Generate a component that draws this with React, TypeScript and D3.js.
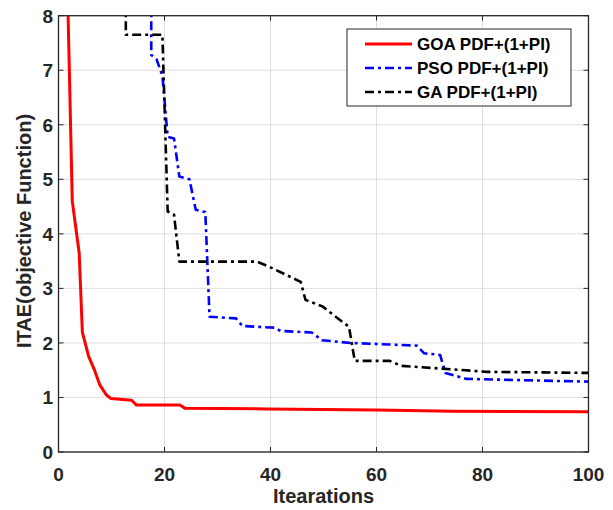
import React from 'react';
import * as d3 from 'd3';

// X ticks / Y ticks
const xTicks = [0, 20, 40, 60, 80, 100];
const yTicks = [0, 1, 2, 3, 4, 5, 6, 7, 8];

// GOA PDF+(1+PI)
const goaIter = [1.0, 2.6, 3.9, 4.5, 5.7, 6.8, 7.8, 9.0, 9.9, 13.8, 14.7, 22.9, 23.9, 39.3, 60, 74.4, 100];
const goaVal = [11.5, 4.6, 3.65, 2.2, 1.75, 1.5, 1.23, 1.05, 0.98, 0.95, 0.86, 0.86, 0.8, 0.79, 0.77, 0.745, 0.74];

// PSO PDF+(1+PI)
const psoIter = [17.5, 17.5, 18.5, 19.6, 20.6, 21.8, 22.8, 24.7, 25.9, 27.7, 28.5, 33.5, 34.7, 40.7, 41.9, 47.8, 49.7, 55.1, 67.6, 69, 72, 73, 77, 100];
const psoVal = [9, 7.28, 7.2, 6.9, 5.78, 5.75, 5.05, 5.0, 4.44, 4.4, 2.48, 2.45, 2.31, 2.28, 2.22, 2.19, 2.05, 2.0, 1.95, 1.81, 1.78, 1.45, 1.34, 1.29];

// GA PDF+(1+PI)
const gaIter = [12.7, 12.7, 19.6, 20.6, 21.8, 22.8, 37.5, 39.7, 45.7, 46.6, 49.8, 53.9, 54.8, 55.9, 62.5, 64.7, 80.9, 100];
const gaVal = [9, 7.65, 7.65, 4.41, 4.35, 3.49, 3.49, 3.4, 3.12, 2.79, 2.67, 2.36, 2.3, 1.67, 1.67, 1.58, 1.47, 1.45];

const seriesNames = ['GOA PDF+(1+PI)', 'PSO PDF+(1+PI)', 'GA PDF+(1+PI)'];
const seriesColors = ['#ff0000', '#0000ff', '#000000'];

export default function App() {
  const W = 613, H = 510;
  const x0 = 58.5, x1 = 588.5, yTop = 15.7, yBot = 452;
  const x = d3.scaleLinear().domain([0, 100]).range([x0, x1]);
  const y = d3.scaleLinear().domain([0, 8]).range([yBot, yTop]);
  const line = d3.line<[number, number]>().x(d => x(d[0])).y(d => y(d[1]));
  const zip = (a: number[], b: number[]) => a.map((v, i) => [v, b[i]] as [number, number]);
  const series = [zip(goaIter, goaVal), zip(psoIter, psoVal), zip(gaIter, gaVal)];
  const dashes = ['none', '9,4,3,4', '9,4,3,4'];
  const widths = [3, 2.6, 2.6];
  const axisColor = '#262626';
  const font = '"Liberation Sans", Arial, sans-serif';

  const legX = 347, legY = 29, legW = 224, legH = 77;
  const legRows = [44, 68, 92];

  return (
    <svg width={W} height={H} style={{ position: 'absolute', left: 0, top: 0, background: '#fff' }}>
      <defs>
        <clipPath id="plotclip">
          <rect x={x0} y={yTop} width={x1 - x0} height={yBot - yTop} />
        </clipPath>
      </defs>
      <rect x={0} y={0} width={W} height={H} fill="#fff" />
      {/* grid */}
      {xTicks.map(t => (
        <line key={'gx' + t} x1={x(t)} x2={x(t)} y1={yTop} y2={yBot} stroke="#dedede" strokeWidth={1} />
      ))}
      {yTicks.map(t => (
        <line key={'gy' + t} x1={x0} x2={x1} y1={y(t)} y2={y(t)} stroke="#dedede" strokeWidth={1} />
      ))}
      {/* series */}
      <g clipPath="url(#plotclip)">
        {series.map((s, i) => (
          <path key={i} d={line(s) || ''} fill="none" stroke={seriesColors[i]} strokeWidth={widths[i]}
            strokeDasharray={dashes[i]} strokeLinejoin="round" />
        ))}
      </g>
      {/* ticks */}
      {xTicks.map(t => (
        <g key={'tx' + t}>
          <line x1={x(t)} x2={x(t)} y1={yBot} y2={yBot - 5} stroke={axisColor} strokeWidth={1} />
          <line x1={x(t)} x2={x(t)} y1={yTop} y2={yTop + 5} stroke={axisColor} strokeWidth={1} />
          <text x={x(t)} y={481} textAnchor="middle" fontFamily={font} fontWeight="bold" fontSize={19} fill={axisColor}>{t}</text>
        </g>
      ))}
      {yTicks.map(t => (
        <g key={'ty' + t}>
          <line x1={x0} x2={x0 + 5} y1={y(t)} y2={y(t)} stroke={axisColor} strokeWidth={1} />
          <line x1={x1} x2={x1 - 5} y1={y(t)} y2={y(t)} stroke={axisColor} strokeWidth={1} />
          <text x={53} y={y(t) + 7} textAnchor="end" fontFamily={font} fontWeight="bold" fontSize={19} fill={axisColor}>{t}</text>
        </g>
      ))}
      {/* box */}
      <rect x={x0} y={yTop} width={x1 - x0} height={yBot - yTop} fill="none" stroke={axisColor} strokeWidth={1.3} />
      {/* axis labels */}
      <text x={(x0 + x1) / 2} y={503} textAnchor="middle" fontFamily={font} fontWeight="bold" fontSize={20} fill={axisColor}>Itearations</text>
      <text transform={`translate(31, 231) rotate(-90)`} textAnchor="middle" fontFamily={font} fontWeight="bold" fontSize={20} fill={axisColor}>ITAE(objective Function)</text>
      {/* legend */}
      <rect x={legX} y={legY} width={legW} height={legH} fill="#fff" stroke={axisColor} strokeWidth={1} />
      {seriesNames.map((n, i) => (
        <g key={'lg' + i}>
          <line x1={365} x2={412} y1={legRows[i]} y2={legRows[i]} stroke={seriesColors[i]} strokeWidth={widths[i]} strokeDasharray={dashes[i]} />
          <text x={417} y={legRows[i] + 6} fontFamily={font} fontWeight="bold" fontSize={17} fill="#000">{n}</text>
        </g>
      ))}
    </svg>
  );
}
